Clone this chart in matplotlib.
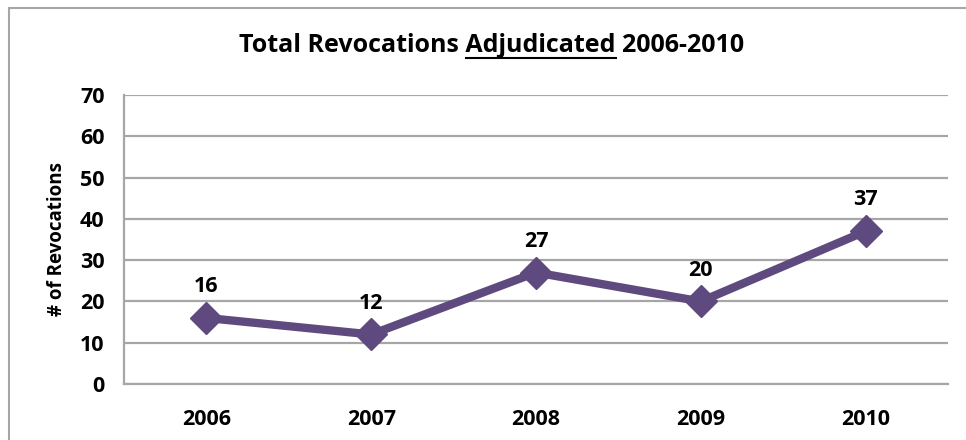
import numpy as np
import matplotlib
matplotlib.use('agg')
import matplotlib.pyplot as plt
from matplotlib.lines import Line2D
from matplotlib.patches import Rectangle

# data
years = ['2006', '2007', '2008', '2009', '2010']
revocations = [16, 12, 27, 20, 37]
yticks = [0, 10, 20, 30, 40, 50, 60, 70]

W, H = 966, 440
fig = plt.figure(figsize=(W / 100, H / 100), dpi=100)
plt.rcParams['font.family'] = ['Open Sans', 'DejaVu Sans']

# outer chart border (open on right/bottom as in the cropped reference)
fig.add_artist(Rectangle((9 / W, -0.05), 1.1, 1 - 8 / H + 0.05, transform=fig.transFigure,
                         fill=False, edgecolor='#A6A6A6', linewidth=1.5))

ax = fig.add_axes([124 / W, 1 - 384 / H, (948 - 124) / W, (384 - 95) / H])
x = np.arange(len(years))
ax.plot(x, revocations, color='#5E4A7E', linewidth=6, marker='D', markersize=16,
        solid_joinstyle='miter', zorder=3)
for xi, v in zip(x, revocations):
    ax.annotate(str(v), (xi, v), xytext=(0, 15), textcoords='offset points',
                ha='center', va='bottom', fontsize=15.5, fontweight='bold', color='black')

ax.set_xlim(-0.5, len(years) - 0.5)
ax.set_ylim(0, 70)
ax.set_yticks(yticks)
ax.set_xticks(x)
ax.set_xticklabels(years)
ax.yaxis.grid(True, color='#A6A6A6', linewidth=1.6)
ax.set_axisbelow(True)
for s in ['top', 'right']:
    ax.spines[s].set_visible(False)
for s in ['left', 'bottom']:
    ax.spines[s].set_color('#A6A6A6')
    ax.spines[s].set_linewidth(1.6)
ax.tick_params(length=0, labelsize=15.5, pad=18)
ax.tick_params(axis='y', pad=14)
for lab in ax.get_xticklabels() + ax.get_yticklabels():
    lab.set_fontweight('bold')
ax.set_ylabel('# of Revocations', fontsize=13.5, fontweight='bold')
ax.yaxis.set_label_coords((67 - 124) / 824, 0.5)

# title with underlined middle word
title = 'Total Revocations Adjudicated 2006-2010'
tprops = dict(fontsize=18, fontweight='bold', color='black')
fig.canvas.draw()
r = fig.canvas.get_renderer()


def text_width(s):
    t = fig.text(0, 0, s, **tprops)
    w = t.get_window_extent(r).width
    t.remove()
    return w


total = text_width(title)
w_start = text_width('Total Revocations X') - text_width('X')
w_end = text_width('Total Revocations Adjudicated')
x0 = 492 - total / 2
fig.text(x0 / W, 1 - 46 / H, title, ha='left', va='center', **tprops)
uy = 1 - 58 / H
fig.add_artist(Line2D([(x0 + w_start) / W, (x0 + w_end) / W], [uy, uy],
                      transform=fig.transFigure, color='black', linewidth=1.5))

fig.savefig('out.png', dpi=100)
